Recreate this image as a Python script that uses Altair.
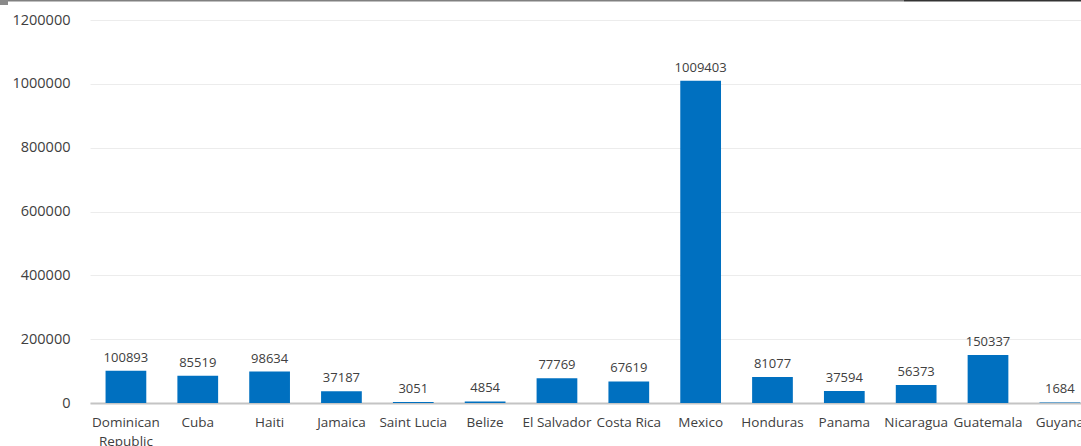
import altair as alt
import pandas as pd

countries = ["Dominican Republic", "Cuba", "Haiti", "Jamaica", "Saint Lucia", "Belize",
             "El Salvador", "Costa Rica", "Mexico", "Honduras", "Panama", "Nicaragua",
             "Guatemala", "Guyana"]
values = [100893, 85519, 98634, 37187, 3051, 4854, 77769, 67619, 1009403, 81077,
          37594, 56373, 150337, 1684]
y_ticks = [0, 200000, 400000, 600000, 800000, 1000000, 1200000]

df = pd.DataFrame({"country": countries, "value": values})

FONT = "Open Sans"
step = 71.84
x_scale = alt.Scale(domain=countries, range=[0, step * len(countries)],
                    paddingInner=0.433, paddingOuter=0.2165)
y_scale = alt.Scale(domain=[0, 1200000])

base = alt.Chart(df)

bars = base.mark_bar(color="#0070C0").encode(
    x=alt.X("country:N", scale=x_scale, sort=None, title=None,
            axis=alt.Axis(labelAngle=0, labelFont=FONT, labelFontSize=13.5,
                          labelColor="#404040", domainColor="#c4c4c4", domainWidth=2,
                          ticks=False, grid=False, labelPadding=12, labelLineHeight=19,
                          labelExpr="length(datum.label) > 12 ? split(datum.label, ' ') : datum.label",
                          labelOverlap=False, labelBound=False, labelFlush=False)),
    y=alt.Y("value:Q", scale=y_scale, title=None,
            axis=alt.Axis(values=y_ticks, format="d", labelFont=FONT, labelFontSize=14.5,
                          labelColor="#404040", domain=False, ticks=False, labelPadding=20,
                          gridColor="#ececec", gridWidth=1)),
)

labels = base.mark_text(font=FONT, fontSize=13, color="#404040", baseline="alphabetic",
                        dy=-9).encode(
    x=alt.X("country:N", scale=x_scale, sort=None),
    y=alt.Y("value:Q", scale=y_scale),
    text=alt.Text("value:Q", format="d"),
)

dummy = alt.Data(values=[{}])
top1 = alt.Chart(dummy).mark_rule(color="#808080", strokeWidth=1.4).encode(
    x=alt.value(-90), x2=alt.value(814), y=alt.value(-19.3))
top2 = alt.Chart(dummy).mark_rule(color="#333333", strokeWidth=1.4).encode(
    x=alt.value(814), x2=alt.value(991), y=alt.value(-19.3))
corner = alt.Chart(dummy).mark_rect(color="#8a8a8a").encode(
    x=alt.value(-90), x2=alt.value(-82), y=alt.value(-20), y2=alt.value(-15))

chart = alt.layer(bars, labels, top1, top2, corner).properties(
    width=991, height=383,
    autosize=alt.AutoSizeParams(type="none"),
    padding={"left": 90, "top": 20, "right": 0, "bottom": 43},
    view=alt.ViewBackground(stroke="transparent", strokeWidth=0),
).configure_view(stroke="transparent", strokeWidth=0).configure_axisX(grid=False).configure(
    background="white")

chart.save("out.html", embed_options={"renderer": "svg", "actions": False})
